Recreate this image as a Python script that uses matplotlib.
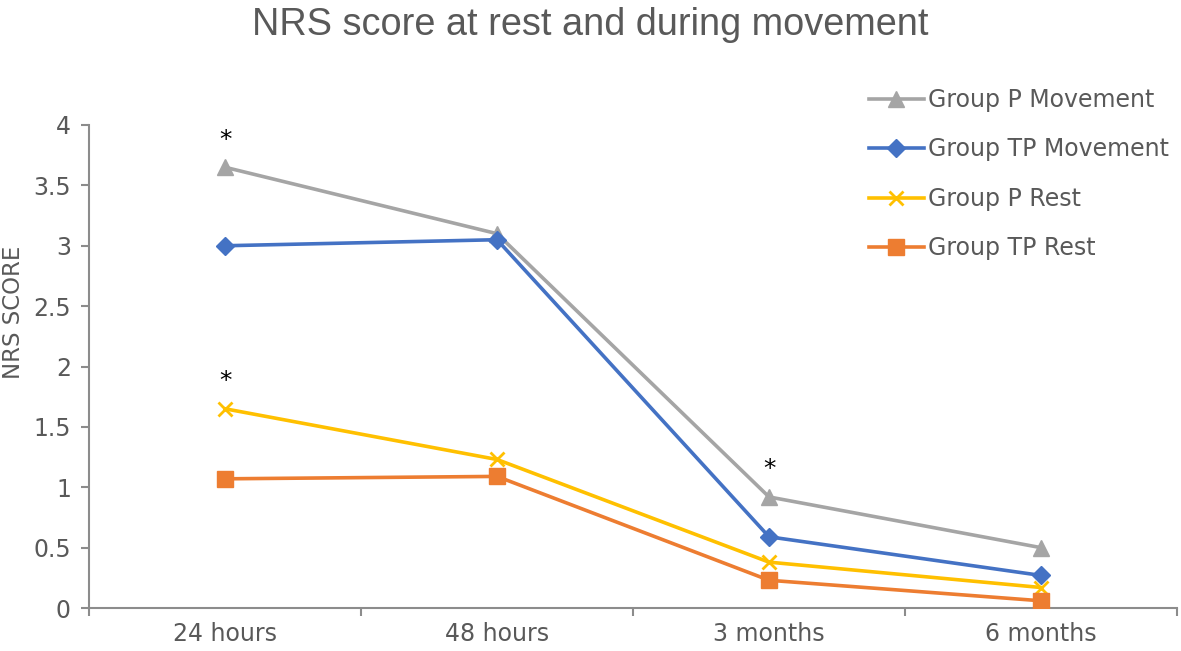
import matplotlib
matplotlib.use("Agg")
import matplotlib.pyplot as plt

# time points
times = ['24 hours', '48 hours', '3 months', '6 months']

# NRS scores
p_move = [3.65, 3.10, 0.92, 0.50]
tp_move = [3.00, 3.05, 0.59, 0.27]
p_rest = [1.65, 1.23, 0.38, 0.17]
tp_rest = [1.07, 1.09, 0.23, 0.06]

# significance stars (series value, index)
stars = [(p_move, 0), (p_rest, 0), (p_move, 2)]

grey_txt = '#595959'
axis_col = '#8c8c8c'

fig = plt.figure(figsize=(11.81, 6.51), dpi=100)
ax = fig.add_axes([0.0754, 0.066, 0.9212, 0.742])

x = list(range(len(times)))
lw = 2.6
ax.plot(x, p_move, color='#A5A5A5', lw=lw, marker='^', ms=12, label='Group P Movement', zorder=3)
ax.plot(x, tp_move, color='#4472C4', lw=lw, marker='D', ms=9, label='Group TP Movement', zorder=3)
ax.plot(x, p_rest, color='#FFC000', lw=lw, marker='x', ms=10, mew=2, label='Group P Rest', zorder=3)
ax.plot(x, tp_rest, color='#ED7D31', lw=lw, marker='s', ms=12, label='Group TP Rest', zorder=3)

for series, i in stars:
    ax.text(x[i], series[i] + 0.13, '*', ha='center', va='bottom', fontsize=18, color='black')

ax.set_xlim(-0.5, 3.5)
ax.set_ylim(0, 4)
ax.set_yticks([0, 0.5, 1, 1.5, 2, 2.5, 3, 3.5, 4])
ax.set_yticklabels(['0', '0.5', '1', '1.5', '2', '2.5', '3', '3.5', '4'])
ax.set_xticks([-0.5, 0.5, 1.5, 2.5, 3.5])
ax.set_xticklabels([])
ax.set_xticks(x, minor=True)
ax.set_xticklabels(times, minor=True)
ax.tick_params(axis='x', which='minor', length=0, pad=10, labelsize=17, labelcolor=grey_txt)
ax.tick_params(axis='x', which='major', length=6, width=1.5, color=axis_col)
ax.tick_params(axis='y', length=6, width=1.5, color=axis_col, labelsize=17, labelcolor=grey_txt, pad=7)

for s in ['top', 'right']:
    ax.spines[s].set_visible(False)
for s in ['left', 'bottom']:
    ax.spines[s].set_color(axis_col)
    ax.spines[s].set_linewidth(1.5)

# y label sits a little above the middle of the axis
fig.text(14 / 1181, 1 - 312 / 651, 'NRS SCORE', rotation=90, ha='center', va='center',
         fontsize=16.5, color=grey_txt)

fig.text(0.4996, 0.947, 'NRS score at rest and during movement', ha='center', va='baseline',
         fontsize=27.3, color=grey_txt, family='Liberation Sans')

fig.legend(loc='upper left', bbox_to_anchor=(0.7254, 0.883), frameon=False, fontsize=17,
           handlelength=2.35, handletextpad=0.17, labelspacing=1.08, labelcolor=grey_txt,
           borderpad=0)

fig.savefig('out.png', dpi=100)
